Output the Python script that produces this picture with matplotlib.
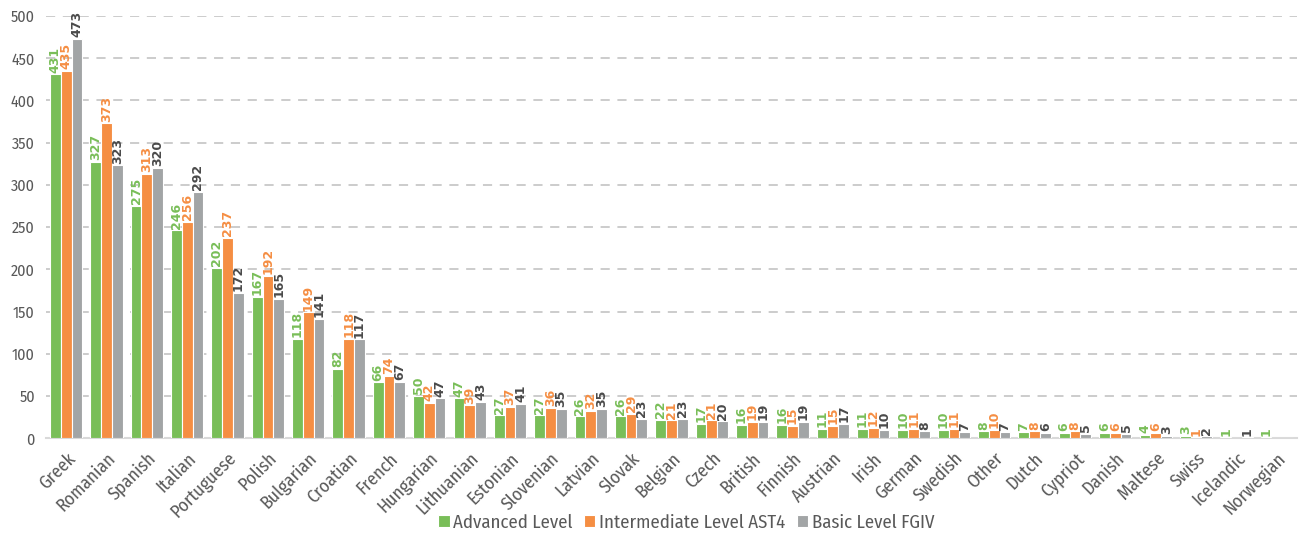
import numpy as np
import matplotlib
matplotlib.use("Agg")
import matplotlib.pyplot as plt

plt.rcParams['font.family'] = ['Fira Sans Condensed', 'Roboto Condensed', 'Open Sans Condensed',
                               'Liberation Sans Narrow', 'DejaVu Sans']

nationalities = ["Greek", "Romanian", "Spanish", "Italian", "Portuguese", "Polish",
                 "Bulgarian", "Croatian", "French", "Hungarian", "Lithuanian", "Estonian",
                 "Slovenian", "Latvian", "Slovak", "Belgian", "Czech", "British", "Finnish",
                 "Austrian", "Irish", "German", "Swedish", "Other", "Dutch", "Cypriot",
                 "Danish", "Maltese", "Swiss", "Icelandic", "Norwegian"]
advanced = [431, 327, 275, 246, 202, 167, 118, 82, 66, 50, 47, 27, 27, 26, 26, 22,
            17, 16, 16, 11, 11, 10, 10, 8, 7, 6, 6, 4, 3, 1, 1]
intermediate = [435, 373, 313, 256, 237, 192, 149, 118, 74, 42, 39, 37, 36, 32, 29, 21,
                21, 19, 15, 15, 12, 11, 11, 10, 8, 8, 6, 6, 1, 0, 0]
basic = [473, 323, 320, 292, 172, 165, 141, 117, 67, 47, 43, 41, 35, 35, 23, 23,
         20, 19, 19, 17, 10, 8, 7, 7, 6, 5, 5, 3, 2, 1, 0]

series = [
    ("Advanced Level", advanced, "#79BE58", "#79BE58"),
    ("Intermediate Level AST4", intermediate, "#F58E43", "#F58E43"),
    ("Basic Level FGIV", basic, "#A2A5A6", "#4A4A4A"),
]

fig = plt.figure(figsize=(13.02, 5.35), dpi=100)
ax = fig.add_axes([0.0353, 0.181, 0.9608, 0.789])

x = np.arange(len(nationalities))
w = 0.267
for i, (name, vals, col, tcol) in enumerate(series):
    pos = x + (i - 1) * w
    ax.bar(pos, vals, width=w, color=col, edgecolor="white", linewidth=0.8,
           label=name, zorder=3)
    # value labels above each bar, skipping empty ones
    for p, v in zip(pos, vals):
        if v == 0:
            continue
        ax.text(p, v + 2, str(v), rotation=90, ha="center", va="bottom",
                color=tcol, fontsize=9, fontweight="bold", family="DejaVu Sans",
                zorder=4)

ax.set_xlim(-0.5, len(nationalities) - 0.5)
ax.set_ylim(0, 500)
ax.set_yticks(range(0, 501, 50))
ax.yaxis.grid(True, color="#BFBFBF", linestyle=(0, (6, 5)), linewidth=1.1)
ax.set_axisbelow(True)
for s in ["top", "right", "left"]:
    ax.spines[s].set_visible(False)
ax.spines["bottom"].set_color("#D9D9D9")
ax.spines["bottom"].set_linewidth(1.5)
ax.tick_params(axis="both", length=0, colors="#595959", labelsize=11.5)
ax.tick_params(axis="y", pad=8)
ax.tick_params(axis="x", pad=8)
ax.set_xticks(x)
ax.set_xticklabels(nationalities, rotation=45, ha="right", rotation_mode="anchor",
                   fontsize=13)

leg = fig.legend(loc="lower center", bbox_to_anchor=(0.527, -0.025), ncol=3,
                 frameon=False, fontsize=13.5, handlelength=0.6, handleheight=0.6,
                 handletextpad=0.2, columnspacing=0.6)
for t in leg.get_texts():
    t.set_color("#595959")

fig.savefig("out.png", dpi=100)
